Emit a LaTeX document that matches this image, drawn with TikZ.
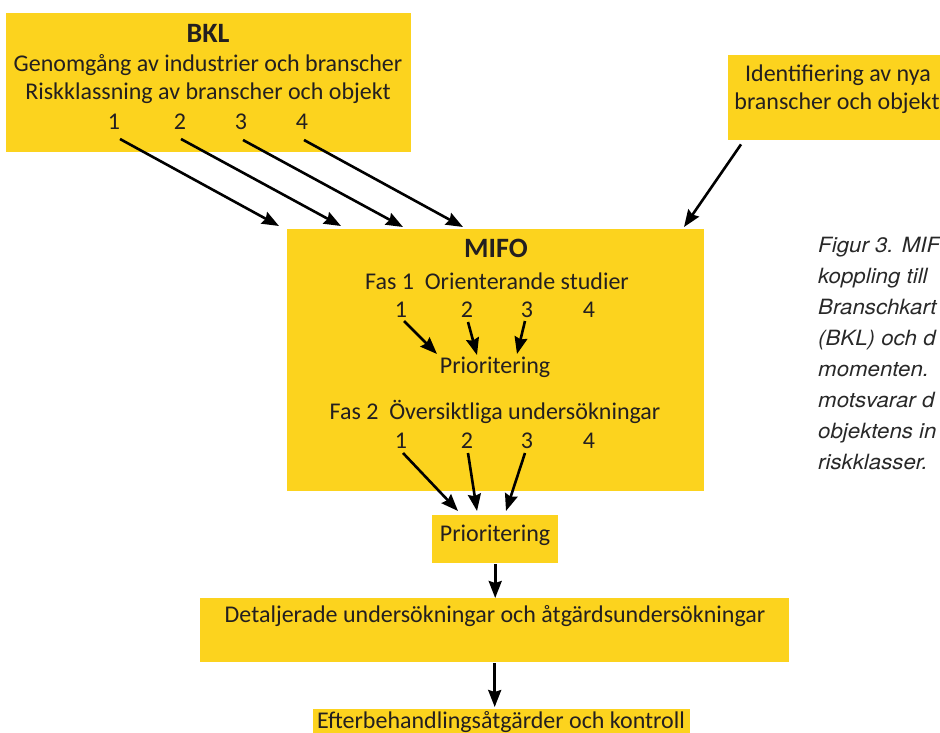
\documentclass[tikz,border=0pt]{standalone}
\usepackage{fontspec}
\setmainfont{Carlito}
\newfontfamily\capfont[FakeStretch=1.06]{TeX Gyre Heros}
\usetikzlibrary{arrows.meta}
\definecolor{boxyellow}{RGB}{252,211,30}
\definecolor{txt}{RGB}{35,31,32}
\definecolor{captxt}{RGB}{40,40,40}
\begin{document}
\begin{tikzpicture}[x=1pt,y=-1pt,
  ybox/.style={fill=boxyellow, draw=none, inner sep=0pt, anchor=north west},
  lbl/.style={text=txt, font=\fontsize{24}{28}\selectfont, inner sep=0pt},
  ttl/.style={text=txt, font=\fontsize{28}{30}\selectfont\bfseries, inner sep=0pt},
  captext/.style={text=captxt, font=\capfont\itshape\fontsize{21}{24}\selectfont, inner sep=0pt, anchor=base west},
  arr/.style={draw=black, line width=2.6pt, -{Stealth[length=17pt,width=13pt,inset=2pt]}},
]
\useasboundingbox (0,0) rectangle (940,733);
\begin{scope}
\clip (0,0) rectangle (940,733);
% boxes
\node[ybox, minimum width=405pt, minimum height=139pt] (bkl) at (6,13) {};
\node[ybox, minimum width=224pt, minimum height=85pt] (ident) at (728,55) {};
\node[ybox, minimum width=417pt, minimum height=262pt] (mifo) at (287,229) {};
\node[ybox, minimum width=126pt, minimum height=48pt] (prio2) at (432,515) {};
\node[ybox, minimum width=589pt, minimum height=64pt] (det) at (200,598) {};
\node[ybox, minimum width=377pt, minimum height=40pt] (efter) at (313,709) {};

% BKL texts
\node[ttl] (bkltitle) at (208,33) {BKL};
\node[lbl] (bklA) at (208,65) {Genomgång av industrier och branscher};
\node[lbl] (bklB) at (208,93) {Riskklassning av branscher och objekt};
\node[lbl] (b1) at (114,122) {1};
\node[lbl] (b2) at (180,122) {2};
\node[lbl] (b3) at (241,122) {3};
\node[lbl] (b4) at (302,122) {4};

% Identifiering
\node[lbl] (idA) at (838,75) {Identifiering av nya};
\node[lbl] (idB) at (837,103) {branscher och objekt};

% MIFO texts
\node[ttl] (mifotitle) at (496,248) {MIFO};
\node[lbl] (fas1) at (497,281) {Fas 1\ \ Orienterande studier};
\node[lbl] (f1a) at (401,310) {1};
\node[lbl] (f1b) at (467,310) {2};
\node[lbl] (f1c) at (527,310) {3};
\node[lbl] (f1d) at (589,310) {4};
\node[lbl] (prio1) at (495,367) {Prioritering};
\node[lbl] (fas2) at (495,412) {Fas 2\ \ Översiktliga undersökningar};
\node[lbl] (f2a) at (401,441) {1};
\node[lbl] (f2b) at (467,441) {2};
\node[lbl] (f2c) at (527,441) {3};
\node[lbl] (f2d) at (589,441) {4};

\node[lbl] (prio2txt) at (495,535) {Prioritering};
\node[lbl] (dettxt) at (495,616) {Detaljerade undersökningar och åtgärdsundersökningar};
\node[lbl] (eftertxt) at (501,722) {Efterbehandlingsåtgärder och kontroll};

% caption
\node[captext] (c1) at (818,252) {Figur 3. MIF};
\node[captext] (c2) at (818,283) {koppling till};
\node[captext] (c3) at (818,314) {Branschkart};
\node[captext] (c4) at (818,345) {(BKL) och d};
\node[captext] (c5) at (818,376) {momenten.};
\node[captext] (c6) at (818,407) {motsvarar d};
\node[captext] (c7) at (818,438) {objektens in};
\node[captext] (c8) at (818,469) {riskklasser.};

% arrow end points
\coordinate (m1) at (279,226);
\coordinate (m2) at (341,226);
\coordinate (m3) at (403,227);
\coordinate (m4) at (463,227);
\coordinate (m5) at (684,227);
\coordinate (p1) at (437,354);
\coordinate (p2) at (477,355);
\coordinate (p3) at (517,354);
\coordinate (q1) at (458,511);
\coordinate (q2) at (477,511);
\coordinate (q3) at (506,511);

% arrows
\draw[arr] ([shift={(6,17)}]b1.center) -- (m1);
\draw[arr] ([shift={(1,17)}]b2.center) -- (m2);
\draw[arr] ([shift={(2,18)}]b3.center) -- (m3);
\draw[arr] ([shift={(2,18)}]b4.center) -- (m4);
\draw[arr] ([shift={(13,4)}]ident.south west) -- (m5);

\draw[arr] ([shift={(3,11)}]f1a.center) -- (p1);
\draw[arr] ([shift={(1,12)}]f1b.center) -- (p2);
\draw[arr] ([shift={(-2,11)}]f1c.center) -- (p3);

\draw[arr] ([shift={(2,12)}]f2a.center) -- (q1);
\draw[arr] ([shift={(1,12)}]f2b.center) -- (q2);
\draw[arr] ([shift={(-2,12)}]f2c.center) -- (q3);

\draw[arr] ([yshift=-1pt]prio2.south) -- (prio2.south |- det.north);
\draw[arr] ([yshift=-1pt]det.south) -- ([yshift=2pt]det.south |- efter.north);
\end{scope}
\end{tikzpicture}
\end{document}
